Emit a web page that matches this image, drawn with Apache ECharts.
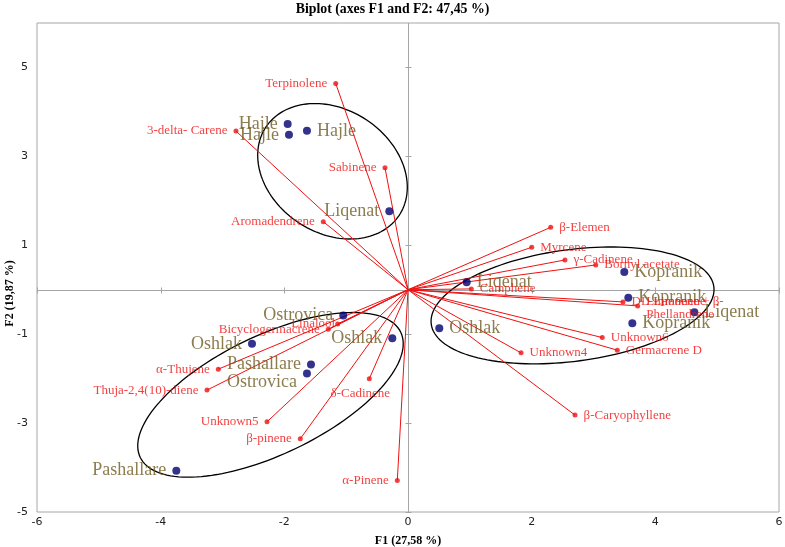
<!DOCTYPE html>
<html><head><meta charset="utf-8">
<script src="https://cdn.jsdelivr.net/npm/echarts@6/dist/echarts.min.js"></script>
<style>html,body{margin:0;padding:0;background:#fff}#c{width:785px;height:547px}</style>
</head><body><div id="c"></div>
<script>
// Observations (samples)
const obsNames = ['Hajle','Hajle','Hajle','Liqenat','Liqenat','Kopranik','Kopranik','Kopranik','Liqenat','Oshlak','Ostrovica','Oshlak','Oshlak','Pashallare','Ostrovica','Pashallare'];
const obsF1 = [-1.946,-1.925,-1.634,-0.302,0.949,3.498,3.563,3.628,4.631,0.506,-1.047,-2.523,-0.254,-1.569,-1.634,-3.747];
const obsF2 = [3.726,3.485,3.575,1.764,0.169,0.400,-0.178,-0.753,-0.506,-0.865,-0.582,-1.218,-1.090,-1.683,-1.885,-4.072];
const obsLabelSide = ['left','left','right','left','right','right','right','right','right','right','left','left','left','left','left','left'];

// Variables (compounds)
const varNames = ['Terpinolene','3-delta- Carene','Sabinene','Aromadendrene','β-Elemen','Myrcene','γ-Cadinene','Bornyl acetate','Camphene','DL-Limonene','Limonene + β-\nPhellandrene','Unknown6','Germacrene D','Unknown4','β-Caryophyllene','Linalool','Bicyclogermacrene','α-Thujene','Thuja-2,4(10)-diene','Unknown5','β-pinene','δ-Cadinene','α-Pinene'];
const varF1 = [-1.169,-2.782,-0.372,-1.370,2.308,2.001,2.539,3.036,1.024,3.477,3.715,3.142,3.385,1.828,2.701,-1.137,-1.289,-3.068,-3.251,-2.280,-1.742,-0.626,-0.173];
const varF2 = [4.640,3.569,2.744,1.530,1.404,0.955,0.670,0.557,0.018,-0.274,-0.364,-1.076,-1.360,-1.420,-2.820,-0.769,-0.888,-1.787,-2.258,-2.971,-3.353,-2.004,-4.290];
const varLabelSide = ['left','left','left','left','right','right','right','right','right','right','right','right','right','right','right','left','left','left','left','left','left','bottom','left'];

// Axis ticks
const xTicks = [-6,-4,-2,0,2,4,6];
const yTicks = [-5,-3,-1,1,3,5];

// Confidence ellipses: centre and two conjugate semi-axis vectors (data units)
const ellipseCentres = [[-1.221,2.665],[2.661,-0.353],[-2.224,-2.364]];
const ellipseAxisU = [[1.076,-0.996],[2.285,0.422],[2.106,1.409]];
const ellipseAxisV = [[-0.553,-1.153],[0.120,-1.245],[0.417,-1.202]];

const serif = 'Liberation Serif';
const obsColor = '#6f5d22';
const varColor = '#f01010';
const frameColor = '#a6a6a6';

const labelExtra = {
  'Ostrovica|-1.634': {offset:[0,9]},
  'δ-Cadinene': {offset:[-9,0], distance:6},
  'Limonene + β-\nPhellandrene': {offset:[0,2], lineHeight:13},
  'Linalool': {distance:0}
};

const obsData = obsNames.map((n,i)=>{
  const d = {name:n, value:[obsF1[i],obsF2[i]], label:{position:obsLabelSide[i]}};
  const ex = labelExtra[n+'|'+obsF1[i]];
  if(ex) Object.assign(d.label, ex);
  return d;
});
const varData = varNames.map((n,i)=>{
  const d = {name:n, value:[varF1[i],varF2[i]], label:{position:varLabelSide[i]}};
  const ex = labelExtra[n];
  if(ex) Object.assign(d.label, ex);
  return d;
});
const ellData = ellipseCentres.map((c,i)=>[c[0],c[1],ellipseAxisU[i][0],ellipseAxisU[i][1],ellipseAxisV[i][0],ellipseAxisV[i][1]]);

const chart = echarts.init(document.getElementById('c'), null, {renderer:'canvas'});
chart.setOption({
  animation:false,
  backgroundColor:'#fff',
  title:{text:'Biplot (axes F1 and F2: 47,45 %)', left:'center', top:2, padding:0,
    textStyle:{fontFamily:serif, fontWeight:'bold', fontSize:13.8, color:'#000'}},
  grid:{left:37, right:6, top:23, bottom:35, containLabel:false, outerBoundsMode:'none',
    show:true, borderColor:frameColor, borderWidth:1, backgroundColor:'transparent'},
  xAxis:{type:'value', min:-6, max:6, interval:2,
    axisLine:{show:false, onZero:false}, axisTick:{show:false}, splitLine:{show:false},
    axisLabel:{fontFamily:'DejaVu Sans', fontSize:11, color:'#222', margin:5},
    name:'F1 (27,58 %)', nameLocation:'middle', nameGap:23, nameMoveOverlap:false,
    nameTextStyle:{fontFamily:serif, fontWeight:'bold', fontSize:12, color:'#000'}},
  yAxis:{type:'value', min:-5, max:6, interval:2,
    axisLine:{show:false, onZero:false}, axisTick:{show:false}, splitLine:{show:false},
    axisLabel:{fontFamily:'DejaVu Sans', fontSize:11, color:'#222', margin:9,
      formatter:v=> yTicks.indexOf(v)>=0 ? String(v) : ''},
    name:'F2 (19,87 %)', nameLocation:'middle', nameGap:21, nameMoveOverlap:false,
    nameTextStyle:{fontFamily:serif, fontWeight:'bold', fontSize:12, color:'#000', padding:[0,52,0,0]}},
  series:[
    {type:'custom', z:1, silent:true, data:[[0,0]], encode:{x:0,y:1},
      renderItem:(p,api)=>{
        const o = api.coord([0,0]);
        const ox = Math.round(o[0])+0.5, oy = Math.round(o[1])+0.5;
        const st = {stroke:frameColor, lineWidth:1};
        const ch = [];
        const l = api.coord([-6,0])[0], r = api.coord([6,0])[0];
        const t = api.coord([0,6])[1], b = api.coord([0,-5])[1];
        ch.push({type:'line', shape:{x1:l,y1:oy,x2:r,y2:oy}, style:st});
        ch.push({type:'line', shape:{x1:ox,y1:t,x2:ox,y2:b}, style:st});
        xTicks.forEach(v=>{ if(v===0) return; const x=Math.round(api.coord([v,0])[0])+0.5;
          ch.push({type:'line', shape:{x1:x,y1:oy-3,x2:x,y2:oy+3}, style:st}); });
        yTicks.forEach(v=>{ const y=Math.round(api.coord([0,v])[1])+0.5;
          ch.push({type:'line', shape:{x1:ox-3,y1:y,x2:ox+3,y2:y}, style:st}); });
        return {type:'group', children:ch};
      }},
    {type:'custom', z:2, silent:true, data:ellData, encode:{x:0,y:1},
      dimensions:['cx','cy','ux','uy','vx','vy'],
      renderItem:(p,api)=>{
        const cx=api.value(0), cy=api.value(1), ux=api.value(2), uy=api.value(3), vx=api.value(4), vy=api.value(5);
        const pts=[];
        for(let k=0;k<=144;k++){const a=k/144*2*Math.PI;
          pts.push(api.coord([cx+Math.cos(a)*ux+Math.sin(a)*vx, cy+Math.cos(a)*uy+Math.sin(a)*vy]));}
        return {type:'polyline', shape:{points:pts}, style:{fill:null, stroke:'#000', lineWidth:1.3}};
      }},
    {type:'custom', z:3, silent:true, data:varNames.map((n,i)=>[varF1[i],varF2[i]]), encode:{x:0,y:1},
      renderItem:(p,api)=>{
        const o=api.coord([0,0]), e=api.coord([api.value(0),api.value(1)]);
        return {type:'line', shape:{x1:o[0],y1:o[1],x2:e[0],y2:e[1]}, style:{stroke:varColor, lineWidth:1}};
      }},
    {type:'scatter', z:4, data:obsData, symbol:'circle', symbolSize:8,
      itemStyle:{color:'#000070'},
      label:{show:true, formatter:'{b}', distance:6, fontFamily:serif, fontSize:18, color:obsColor}},
    {type:'scatter', z:5, data:varData, symbol:'circle', symbolSize:5,
      itemStyle:{color:varColor},
      label:{show:true, formatter:'{b}', distance:6, fontFamily:serif, fontSize:13, color:varColor, lineHeight:13}}
  ]
});
</script>
</body></html>
